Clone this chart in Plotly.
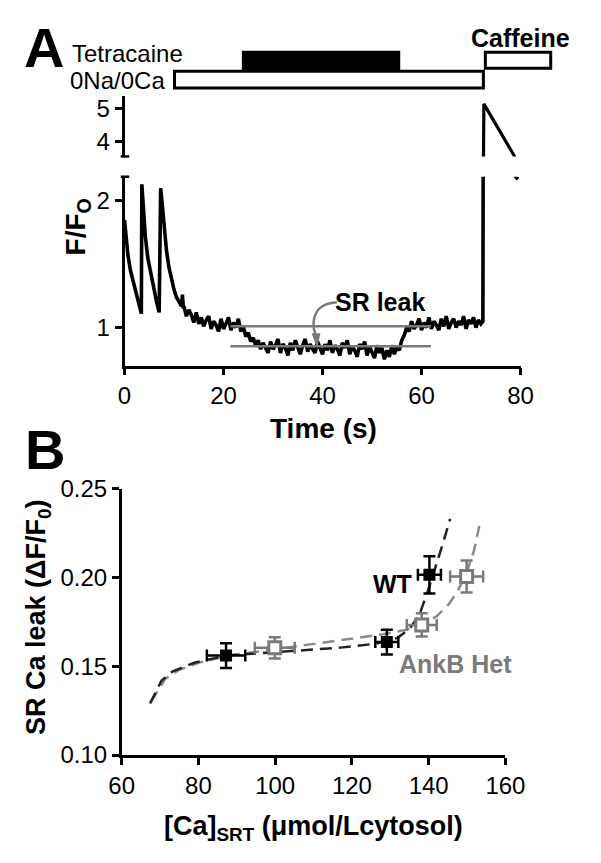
import plotly.graph_objects as go

W, H = 601, 863
def px(x):
    return x / W
def py(y):
    return 1 - y / H

FONT = "Arial, 'Liberation Sans', sans-serif"
GRAY = "#7a7a7a"

# ---------------- Panel A data ----------------
trace_t = [0.0, 0.3, 0.7, 1.2, 1.8, 2.4, 3.0, 3.4,
           3.5, 3.8, 4.2, 4.7, 5.3, 5.9, 6.5, 7.0,
           7.3, 7.6, 8.0, 8.5, 9.0, 9.5, 10.0, 10.5, 11.0, 11.5, 11.7, 11.9,
           12.0, 12.5, 13.0, 13.5, 14.0, 14.5, 15.0, 15.5, 16.0, 16.5, 17.0, 17.5,
           18.0, 18.5, 19.0, 19.5, 20.0, 20.5, 21.0, 21.5, 22.0, 22.5, 23.0, 23.5,
           24.0, 24.5, 25.0, 25.5, 26.0, 26.5, 27.0, 27.5, 28.0, 28.5, 29.0, 29.5,
           30.0, 30.5, 31.0, 31.5, 32.0, 32.5, 33.0, 33.5, 34.0, 34.5, 35.0, 35.5,
           36.0, 36.5, 37.0, 37.5, 38.0, 38.5, 39.0, 39.5, 40.0, 40.5, 41.0, 41.5,
           42.0, 42.5, 43.0, 43.5, 44.0, 44.5, 45.0, 45.5, 46.0, 46.5, 47.0, 47.5,
           48.0, 48.5, 49.0, 49.5, 50.0, 50.5, 51.0, 51.5, 52.0, 52.5, 53.0, 53.5,
           54.0, 54.5, 55.0, 55.5, 56.0, 56.5, 57.0, 57.5, 58.0, 58.5, 59.0, 59.5,
           60.0, 60.5, 61.0, 61.5, 62.0, 62.5, 63.0, 63.5, 64.0, 64.5, 65.0, 65.5,
           66.0, 66.5, 67.0, 67.5, 68.0, 68.5, 69.0, 69.5, 70.0, 70.5, 71.0, 71.5,
           72.0, 72.4, 72.6, 74.0, 75.5, 77.0, 78.8, 79.0, 79.5]
trace_f = [1.85, 1.72, 1.57, 1.45, 1.36, 1.28, 1.18, 1.11,
           2.13, 1.95, 1.72, 1.55, 1.42, 1.30, 1.20, 1.12,
           2.10, 1.98, 1.78, 1.60, 1.47, 1.38, 1.30, 1.24, 1.20, 1.17, 1.26, 1.15,
           1.17, 1.09, 1.14, 1.10, 1.04, 1.12, 1.03, 1.08, 1.01, 1.06, 1.09, 0.99,
           1.05, 1.02, 0.97, 1.07, 0.99, 1.03, 1.08, 0.98, 1.04, 1.00, 1.07, 0.97,
           1.01, 0.93, 0.96, 0.89, 0.92, 0.86, 0.90, 0.83, 0.88, 0.84, 0.80, 0.89,
           0.83, 0.86, 0.91, 0.80, 0.87, 0.84, 0.78, 0.88, 0.82, 0.90, 0.85, 0.79,
           0.86, 0.91, 0.81, 0.87, 0.83, 0.80, 0.89, 0.84, 0.79, 0.87, 0.82, 0.90,
           0.80, 0.86, 0.83, 0.78, 0.88, 0.84, 0.90, 0.79, 0.85, 0.82, 0.77, 0.87,
           0.83, 0.89, 0.78, 0.85, 0.81, 0.76, 0.86, 0.80, 0.84, 0.75, 0.82, 0.77,
           0.86, 0.79, 0.85, 0.82, 0.90, 0.94, 1.00, 0.97, 1.05, 0.99, 1.02, 1.07,
           0.98, 1.04, 1.00, 1.08, 0.99, 1.05, 1.02, 0.98, 1.07, 1.01, 1.09, 0.99,
           1.04, 1.07, 1.00, 1.05, 1.02, 1.09, 0.99, 1.06, 1.03, 1.08, 1.00, 1.06,
           1.03, 1.05, 5.15, 4.78, 4.40, 4.02, 3.56, 2.19, 2.17]

tetracaine_on, tetracaine_off = 23.7, 55.7
zero_na_ca_on, zero_na_ca_off = 10.1, 72.5
caffeine_on, caffeine_off = 72.9, 86.1

leak_upper_level = 1.010
leak_lower_level = 0.853
leak_t_start, leak_t_end = 21.4, 61.9

a_xticks = [0, 20, 40, 60, 80]
a_yticks_low = [1, 2]
a_yticks_high = [4, 5]

# ---------------- Panel B data ----------------
wt_x = [87.2, 129.1, 140.2]
wt_y = [0.156, 0.1636, 0.2015]
wt_xerr = [5.0, 3.0, 3.0]
wt_yerr = [0.007, 0.007, 0.0105]

het_x = [99.9, 138.2, 149.9]
het_y = [0.1604, 0.1733, 0.2005]
het_xerr = [5.2, 3.9, 4.3]
het_yerr = [0.006, 0.0066, 0.009]

wt_fit_x = [67.4, 70.4, 73.2, 78.9, 87.2, 97.0, 107.3, 117.0, 126.2, 131.9,
            135.0, 137.6, 140.2, 142.0, 143.7, 145.6]
wt_fit_y = [0.129, 0.142, 0.147, 0.152, 0.156, 0.1575, 0.159, 0.1605, 0.1627, 0.166,
            0.171, 0.179, 0.195, 0.207, 0.219, 0.233]
het_fit_x = [67.6, 71.4, 75.0, 80.0, 88.0, 99.9, 108.0, 116.8, 128.1, 134.0,
             138.2, 142.0, 145.1, 147.5, 149.9, 151.8, 153.2]
het_fit_y = [0.130, 0.143, 0.148, 0.152, 0.156, 0.1595, 0.162, 0.1645, 0.168, 0.1705,
             0.1733, 0.178, 0.1845, 0.192, 0.2027, 0.215, 0.229]

b_xticks = [60, 80, 100, 120, 140, 160]
b_yticks = [0.10, 0.15, 0.20, 0.25]

# ---------------- Figure ----------------
fig = go.Figure()

fig.add_trace(go.Scatter(x=trace_t, y=trace_f, mode="lines",
                         line=dict(color="black", width=3.6), xaxis="x", yaxis="y",
                         hoverinfo="skip"))
fig.add_trace(go.Scatter(x=trace_t, y=trace_f, mode="lines",
                         line=dict(color="black", width=3.2), xaxis="x2", yaxis="y2",
                         hoverinfo="skip"))
for lvl in [leak_upper_level, leak_lower_level]:
    fig.add_trace(go.Scatter(x=[leak_t_start, leak_t_end], y=[lvl, lvl], mode="lines",
                             line=dict(color=GRAY, width=2.5), xaxis="x", yaxis="y",
                             hoverinfo="skip"))

fig.add_trace(go.Scatter(x=het_fit_x, y=het_fit_y, mode="lines",
                         line=dict(color="#8a8a8a", width=2.5, dash="12px,7px"),
                         xaxis="x3", yaxis="y3", hoverinfo="skip"))
fig.add_trace(go.Scatter(x=wt_fit_x, y=wt_fit_y, mode="lines",
                         line=dict(color="#222222", width=2.5, dash="12px,7px"),
                         xaxis="x3", yaxis="y3", hoverinfo="skip"))
fig.add_trace(go.Scatter(x=het_x, y=het_y, mode="markers",
                         marker=dict(symbol="square", size=12, color="white",
                                     line=dict(color=GRAY, width=3)),
                         error_x=dict(type="data", array=het_xerr, color=GRAY, thickness=2.5, width=6),
                         error_y=dict(type="data", array=het_yerr, color=GRAY, thickness=2.5, width=6),
                         xaxis="x3", yaxis="y3"))
fig.add_trace(go.Scatter(x=wt_x, y=wt_y, mode="markers",
                         marker=dict(symbol="square", size=12, color="black"),
                         error_x=dict(type="data", array=wt_xerr, color="black", thickness=2.5, width=6),
                         error_y=dict(type="data", array=wt_yerr, color="black", thickness=2.5, width=6),
                         xaxis="x3", yaxis="y3"))

axis_common = dict(showline=True, linecolor="black", linewidth=2.5, ticks="outside",
                   ticklen=7, tickwidth=2.5, tickcolor="black", showgrid=False,
                   zeroline=False, tickfont=dict(family=FONT, size=24, color="black"))

fig.update_layout(
    width=W, height=H, margin=dict(l=0, r=0, t=0, b=0),
    paper_bgcolor="white", plot_bgcolor="white", showlegend=False,
    xaxis=dict(domain=[px(118), px(537)], range=[0, 80], tickvals=a_xticks,
               anchor="y", **axis_common),
    yaxis=dict(domain=[py(363), py(168)], range=[0.70, 2.19], tickvals=a_yticks_low,
               anchor="x", **axis_common),
    xaxis2=dict(domain=[px(118), px(537)], range=[0, 80], visible=False, anchor="y2"),
    yaxis2=dict(domain=[py(147), py(85)], range=[3.56, 5.38], tickvals=a_yticks_high,
                anchor="x2", **axis_common),
    xaxis3=dict(domain=[px(115), px(521)], range=[60, 160], tickvals=b_xticks,
                anchor="y3", **axis_common),
    yaxis3=dict(domain=[py(765), py(490)], range=[0.10, 0.25], tickvals=b_yticks,
                tickformat=".2f", anchor="x3", **axis_common),
)

shapes = []
def tfrac(t):
    return t / 80.0
shapes.append(dict(type="rect", xref="x domain", yref="paper",
                   x0=tfrac(zero_na_ca_on), x1=tfrac(zero_na_ca_off), y0=py(76.5), y1=py(59),
                   line=dict(color="black", width=3), fillcolor="white"))
shapes.append(dict(type="rect", xref="x domain", yref="paper",
                   x0=tfrac(tetracaine_on), x1=tfrac(tetracaine_off), y0=py(59), y1=py(38),
                   line=dict(color="black", width=0), fillcolor="black"))
shapes.append(dict(type="rect", xref="x domain", yref="paper",
                   x0=tfrac(caffeine_on), x1=tfrac(caffeine_off), y0=py(56), y1=py(39.5),
                   line=dict(color="black", width=3), fillcolor="white"))
for yy in [168, 147]:
    shapes.append(dict(type="line", xref="paper", yref="paper", x0=px(114), x1=px(123),
                       y0=py(yy), y1=py(yy), line=dict(color="black", width=2.5)))
shapes.append(dict(type="path", xref="x", yref="y",
                   path="M 42.9,1.20 Q 37.9,1.19 38.2,1.00 L 38.7,0.93",
                   line=dict(color=GRAY, width=2.5)))
shapes.append(dict(type="path", xref="x", yref="y",
                   path="M 38.0,0.95 L 39.4,0.95 L 38.9,0.86 Z",
                   line=dict(color=GRAY, width=1.5), fillcolor=GRAY))
fig.update_layout(shapes=shapes)

ann = []
def A(text, x, y, size, bold=False, color="black", xanchor="center", angle=0, xref="paper", yref="paper"):
    t = f"<b>{text}</b>" if bold else text
    ann.append(dict(text=t, x=x, y=y, xref=xref, yref=yref, xanchor=xanchor, yanchor="middle",
                    showarrow=False, textangle=angle,
                    font=dict(family=FONT, size=size, color=color)))

A("A", px(33), py(35), 56, bold=True)
A("B", px(34), py(450), 56, bold=True)
A("Tetracaine", px(60), py(41), 24, xanchor="left")
A("0Na/0Ca", px(58), py(69), 24, xanchor="left")
A("Caffeine", px(537), py(25), 25, bold=True)
A("Time (s)", px(329), py(428), 28, bold=True)
A("F/F<sub>O</sub>", px(68), py(220), 28, bold=True, angle=-90)
A("SR Ca leak (ΔF/F<sub>0</sub>)", px(26), py(623), 27, bold=True, angle=-90)
A("[Ca]<sub>SRT</sub> (μmol/Lcytosol)", px(318), py(840), 27, bold=True)
A("SR leak", 51.6, 1.205, 25, bold=True, xref="x", yref="y")
A("WT", 130.5, 0.1965, 25, bold=True, xref="x3", yref="y3")
A("AnkB Het", 147.0, 0.1515, 25, bold=True, color=GRAY, xref="x3", yref="y3")
fig.update_layout(annotations=ann)

fig.write_html("out.html", config={"displayModeBar": False},
               post_script="document.body.style.margin='0px';")
